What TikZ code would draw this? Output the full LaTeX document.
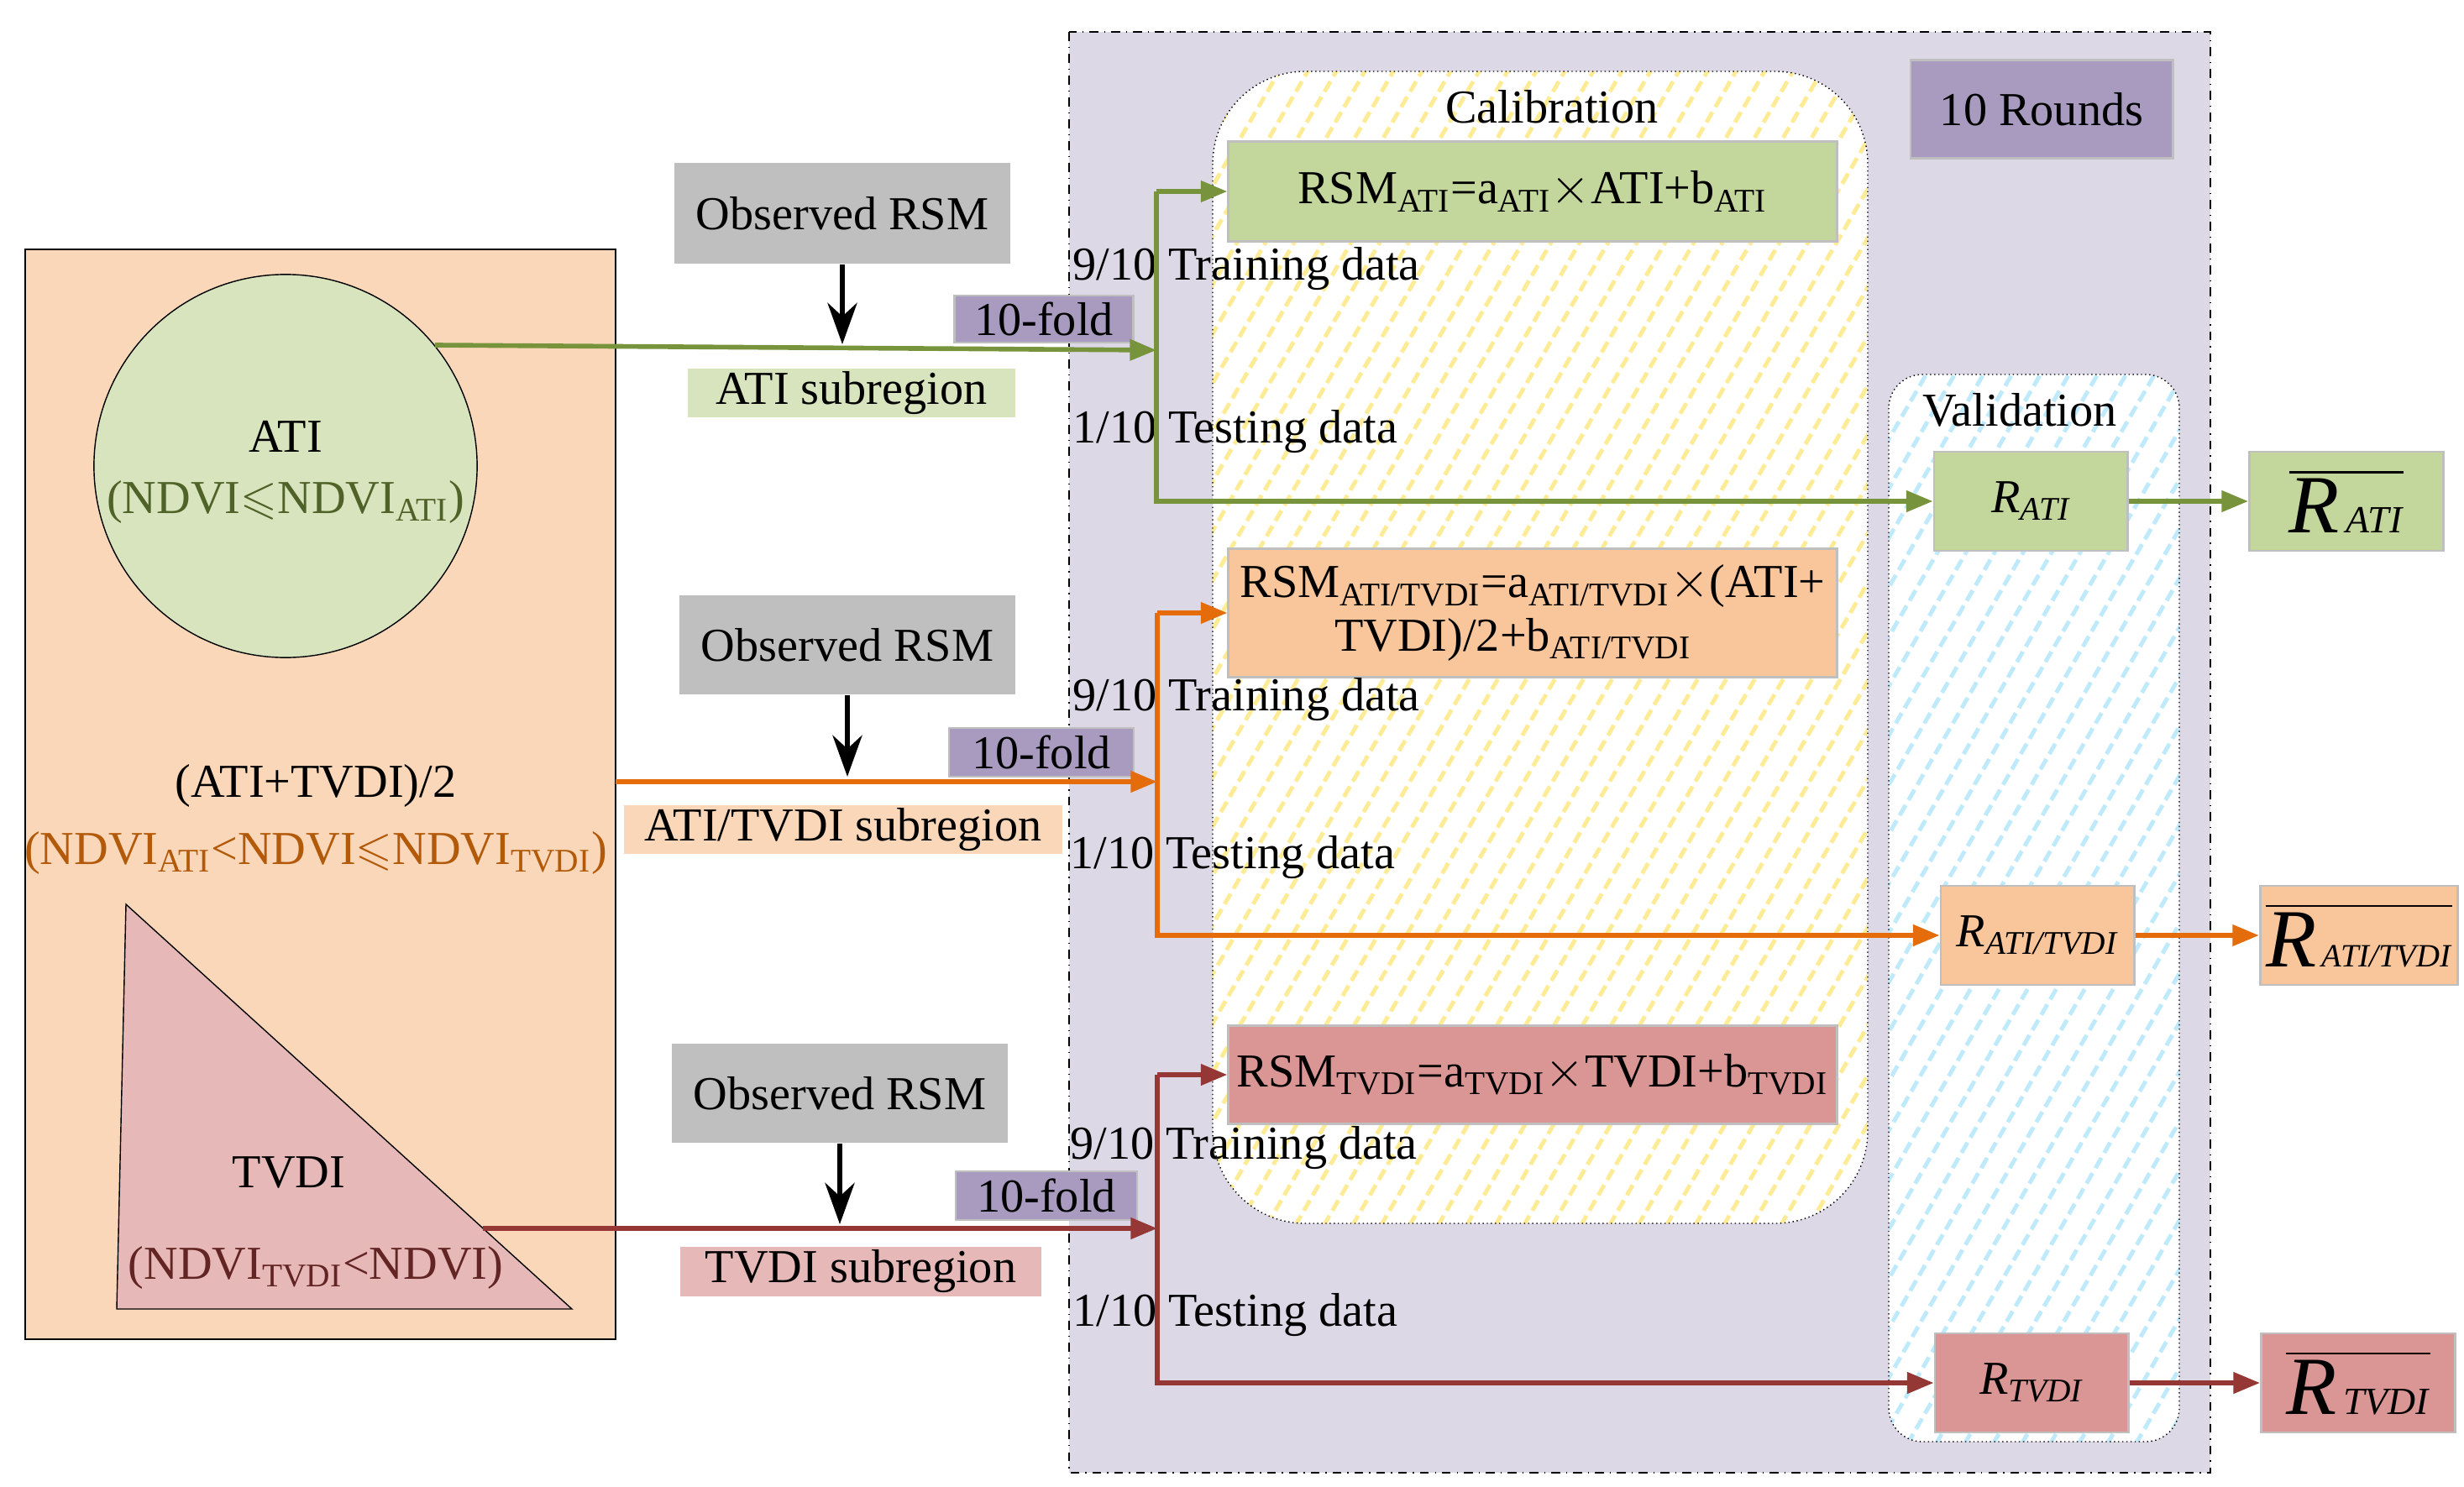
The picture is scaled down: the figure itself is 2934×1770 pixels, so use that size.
\documentclass[tikz,border=0pt]{standalone}
\usepackage{amsmath}
\usepackage{amssymb}
\usepackage{fontspec}
\setmainfont{Liberation Serif}
\usetikzlibrary{arrows.meta}
\definecolor{lav}{HTML}{DDD8E6}
\definecolor{purp}{HTML}{A99BBF}
\definecolor{gfill}{HTML}{C3D69B}
\definecolor{glight}{HTML}{D7E4BD}
\definecolor{ofill}{HTML}{F9C59B}
\definecolor{olight}{HTML}{FAD7B8}
\definecolor{rfill}{HTML}{DA9694}
\definecolor{rlight}{HTML}{E6B9B8}
\definecolor{gline}{HTML}{77933C}
\definecolor{oline}{HTML}{E46C0A}
\definecolor{rline}{HTML}{953735}
\definecolor{gtxt}{HTML}{4F6228}
\definecolor{otxt}{HTML}{B25A0A}
\definecolor{rtxt}{HTML}{632523}

\begin{document}
\begin{tikzpicture}[x=0.01cm,y=-0.01cm,font=\fontsize{16}{18}\selectfont]
\tikzstyle{box}=[draw=black!25,line width=0.8pt,inner sep=2pt];
\tikzstyle{lbl}=[inner sep=1pt];
\tikzstyle{conn}=[line width=1.6pt,-{Triangle[length=9pt,width=7pt]}];
\useasboundingbox (0,0) rectangle (2934,1770);
% left region panel
\draw[fill=olight] (30,297) rectangle (733,1595);
\node[draw,circle,fill=glight,minimum size=4.56cm] (cATI) at (340,555) {};
\node at (340,520) {ATI};
\node[text=gtxt] at (340,598) {(NDVI$\leqslant$NDVI\textsubscript{ATI})};
\node at (376,936) {(ATI+TVDI)/2};
\node[text=otxt] at (376,1016) {(NDVI\textsubscript{ATI}<NDVI$\leqslant$NDVI\textsubscript{TVDI})};
\draw[fill=rlight] (150,1077) -- (139,1559) -- (681,1559) -- cycle;
\node at (344,1396) {TVDI};
\node[text=rtxt] at (376,1510) {(NDVI\textsubscript{TVDI}<NDVI)};
% cross validation panel
\draw[dash dot,fill=lav] (1273,38) rectangle (2632,1754);
\begin{scope}
\clip[rounded corners=1.1cm] (1444,85) rectangle (2224,1457);
\fill[white] (1444,85) rectangle (2224,1457);
\foreach \i in {-820,-786,...,800}
  \draw[yellow!70!orange!40,line width=1.4pt,dash pattern=on 4pt off 2pt] (1444+\i,1460) -- (1444+\i+800,80);
\end{scope}
\draw[densely dotted,rounded corners=1.1cm] (1444,85) rectangle (2224,1457);
\begin{scope}
\clip[rounded corners=0.4cm] (2249,446) rectangle (2595,1717);
\fill[white] (2249,446) rectangle (2595,1717);
\foreach \i in {-760,-726,...,360}
  \draw[cyan!25,line width=1.4pt,dash pattern=on 4pt off 2pt] (2249+\i,1720) -- (2249+\i+740,440);
\end{scope}
\draw[densely dotted,rounded corners=0.4cm] (2249,446) rectangle (2595,1717);
\node (cal) at (1848,127) {Calibration};
\node (val) at (2405,488) {Validation};
\node[box,fill=purp,minimum width=3.12cm,minimum height=1.17cm] (rounds) at (2431,130) {10 Rounds};
% equation boxes
\node[box,fill=gfill,minimum width=7.24cm,minimum height=1.19cm] (eqA) at (1825,228) {RSM\textsubscript{ATI}=a\textsubscript{ATI}$\times$ATI+b\textsubscript{ATI}};
\node[box,fill=ofill,minimum width=7.24cm,minimum height=1.53cm,align=left] (eqAT) at (1825,730) {RSM\textsubscript{ATI/TVDI}=a\textsubscript{ATI/TVDI}$\times$(ATI+\\\hspace*{2em}TVDI)/2+b\textsubscript{ATI/TVDI}};
\node[box,fill=rfill,minimum width=7.24cm,minimum height=1.17cm] (eqT) at (1825,1280) {RSM\textsubscript{TVDI}=a\textsubscript{TVDI}$\times$TVDI+b\textsubscript{TVDI}};
% validation and mean boxes
\node[box,fill=gfill,minimum width=2.3cm,minimum height=1.18cm] (RA) at (2418,597) {\textit{R\textsubscript{ATI}}};
\node[box,fill=ofill,minimum width=2.3cm,minimum height=1.18cm] (RAT) at (2426,1114) {\textit{R\textsubscript{ATI/TVDI}}};
\node[box,fill=rfill,minimum width=2.3cm,minimum height=1.18cm] (RT) at (2419,1647) {\textit{R\textsubscript{TVDI}}};
\node[box,fill=gfill,minimum width=2.31cm,minimum height=1.18cm] (mA) at (2794,597) {$\overline{\mbox{\fontsize{28}{30}\selectfont\textit{R}\fontsize{13}{14}\selectfont\textit{\,ATI}}}$};
\node[box,fill=ofill,minimum width=2.31cm,minimum height=1.18cm] (mAT) at (2809,1114) {$\overline{\mbox{\fontsize{28}{30}\selectfont\textit{R}\fontsize{11}{12}\selectfont\textit{\,ATI/TVDI}}}$};
\node[box,fill=rfill,minimum width=2.31cm,minimum height=1.18cm] (mT) at (2808,1647) {$\overline{\mbox{\fontsize{28}{30}\selectfont\textit{R}\fontsize{13}{14}\selectfont\textit{\,TVDI}}}$};
% observed and subregion nodes
\node[box,draw=none,fill=black!25,minimum width=4cm,minimum height=1.2cm] (obsA) at (1003,254) {Observed RSM};
\node[box,draw=none,fill=black!25,minimum width=4cm,minimum height=1.18cm] (obsAT) at (1009,768) {Observed RSM};
\node[box,draw=none,fill=black!25,minimum width=4cm,minimum height=1.18cm] (obsT) at (1000,1302) {Observed RSM};
\node[box,fill=purp,minimum width=2.13cm,minimum height=0.56cm] (foldA) at (1243,380) {10-fold};
\node[box,fill=purp,minimum width=2.2cm,minimum height=0.58cm] (foldAT) at (1240,896) {10-fold};
\node[box,fill=purp,minimum width=2.16cm,minimum height=0.58cm] (foldT) at (1246,1424) {10-fold};
\node[lbl,fill=glight,minimum width=3.89cm,minimum height=0.56cm] (subA) at (1014,468) {ATI subregion};
\node[lbl,fill=olight,minimum width=5.22cm,minimum height=0.58cm] (subAT) at (1004,988) {ATI/TVDI subregion};
\node[lbl,fill=rlight,minimum width=4.29cm,minimum height=0.59cm] (subT) at (1025,1514) {TVDI subregion};
\node[lbl,anchor=west] (trA) at (1273,320) {9/10 Training data};
\node[lbl,anchor=west] (teA) at (1273,514) {1/10 Testing data};
\node[lbl,anchor=west] (trAT) at (1273,833) {9/10 Training data};
\node[lbl,anchor=west] (teAT) at (1270,1021) {1/10 Testing data};
\node[lbl,anchor=west] (trT) at (1270,1367) {9/10 Training data};
\node[lbl,anchor=west] (teT) at (1273,1566) {1/10 Testing data};
% connectors
\coordinate (jA) at (1377,417);
\coordinate (jAT) at (1378,931);
\coordinate (jT) at (1378,1463);
\coordinate (tA) at (575,1463);
\draw[conn,-{Stealth[length=14pt,width=10pt]}] (obsA.south) -- (obsA.south |- 0,410);
\draw[conn,-{Stealth[length=14pt,width=10pt]}] (obsAT.south) -- (obsAT.south |- 0,925);
\draw[conn,-{Stealth[length=14pt,width=10pt]}] (obsT.south) -- (obsT.south |- 0,1458);
\draw[conn,gline] (cATI.39.5) -- (jA);
\draw[conn,gline] (eqA.west -| jA) -- (eqA.west);
\draw[conn,gline] (eqA.west -| jA) |- (RA.west);
\draw[conn,gline] (RA.east) -- (mA.west);
\draw[conn,oline] (733,931) -- (jAT);
\draw[conn,oline] (eqAT.west -| jAT) -- (eqAT.west);
\draw[conn,oline] (eqAT.west -| jAT) |- (RAT.west);
\draw[conn,oline] (RAT.east) -- (mAT.west);
\draw[conn,rline] (tA) -- (jT);
\draw[conn,rline] (eqT.west -| jT) -- (eqT.west);
\draw[conn,rline] (eqT.west -| jT) |- (RT.west);
\draw[conn,rline] (RT.east) -- (mT.west);
\end{tikzpicture}
\end{document}
